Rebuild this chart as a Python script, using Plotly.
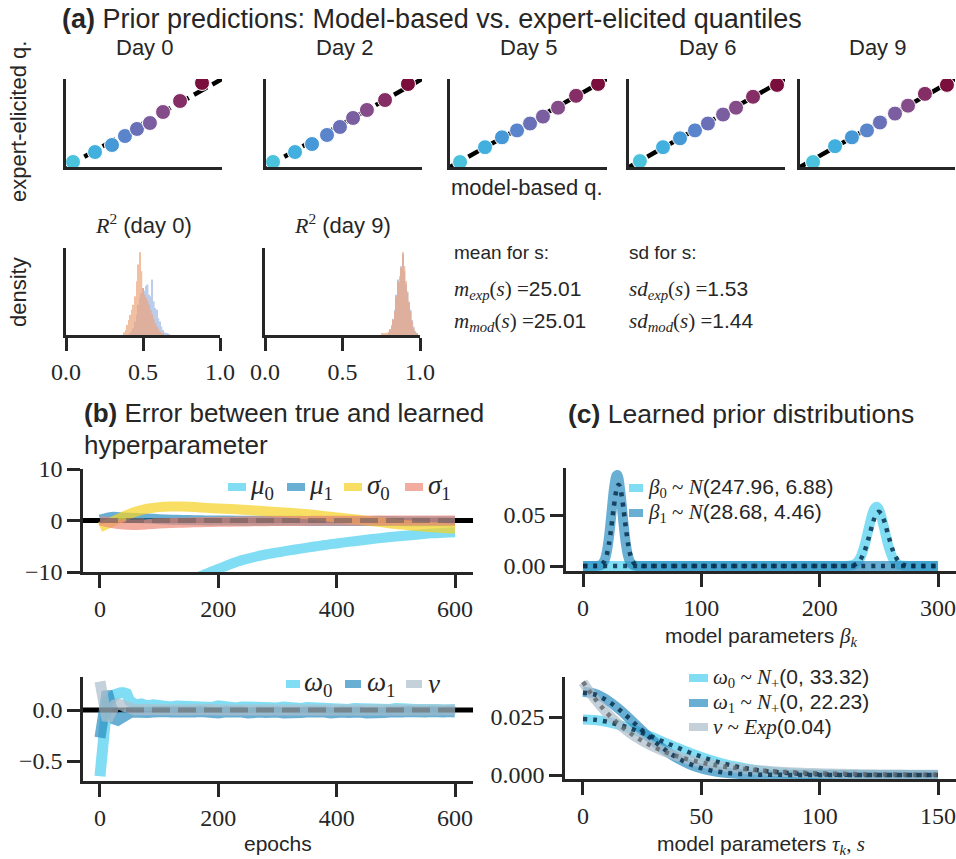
import plotly.graph_objects as go

W, H = 956, 859
def fx(p): return p / W
def fy(p): return 1 - p / H

# ---------------- DATA ----------------
# (a) quantiles: model-based (x) vs expert-elicited (y)
day_labels = ["Day 0", "Day 2", "Day 5", "Day 6", "Day 9"]
q_range = [20.0, 30.0]
model_q_day0 = [20.45, 21.86, 22.95, 23.78, 24.55, 25.38, 26.22, 27.31, 28.72]
expert_q_day0 = [20.57, 21.70, 22.50, 23.52, 24.32, 25.00, 26.25, 27.50, 29.55]
model_q_day2 = [20.45, 21.86, 22.95, 23.91, 24.74, 25.58, 26.47, 27.63, 29.10]
expert_q_day2 = [20.57, 21.70, 22.61, 23.64, 24.55, 25.57, 26.48, 27.61, 29.43]
model_q_day5 = [20.64, 22.23, 23.31, 24.27, 25.10, 25.92, 26.88, 28.03, 29.43]
expert_q_day5 = [20.56, 22.25, 23.37, 24.16, 24.94, 25.73, 26.74, 28.09, 29.44]
model_q_day6 = [20.70, 22.18, 23.27, 24.23, 25.06, 26.03, 26.86, 27.95, 29.49]
expert_q_day6 = [20.67, 22.25, 23.26, 24.16, 24.94, 25.96, 26.74, 27.98, 29.33]
model_q_day9 = [20.84, 22.26, 23.35, 24.32, 25.16, 26.13, 26.97, 28.06, 29.48]
expert_q_day9 = [20.56, 22.36, 23.37, 24.16, 25.06, 26.07, 26.97, 28.31, 29.33]
quantile_colors = ["#4cc3dc", "#42b0de", "#4698d6", "#5a84cc", "#6a70b8",
                   "#7a5ea0", "#844c88", "#852e66", "#7a0e3c"]

# (a) R^2 histograms
r2_day0_exp_x = [0.38, 0.39, 0.40, 0.41, 0.42, 0.43, 0.44, 0.45, 0.46, 0.47, 0.48, 0.49, 0.50,
                 0.51, 0.52, 0.53, 0.54, 0.55, 0.56, 0.57, 0.58, 0.59, 0.60, 0.61, 0.62, 0.63]
r2_day0_exp_h = [0.8, 1.5, 3, 4.5, 6, 7.5, 9, 11.5, 16, 21, 24.6, 19, 14,
                 12, 11, 10.2, 9, 7.5, 6.2, 4.8, 3.6, 2.6, 1.8, 1.1, 0.6, 0.3]
r2_day0_mod_x = [0.42, 0.43, 0.44, 0.45, 0.46, 0.47, 0.48, 0.49, 0.50, 0.51, 0.52, 0.53, 0.54,
                 0.55, 0.56, 0.57, 0.58, 0.59, 0.60, 0.61, 0.62, 0.63, 0.64, 0.65, 0.66, 0.67]
r2_day0_mod_h = [0.5, 1.2, 2, 4, 6, 9, 11, 12.5, 14, 13.2, 14.5, 15, 12,
                 11.5, 16.5, 10, 8, 7.5, 5, 4, 2.5, 1.5, 0.8, 0.5, 0.3, 0.2]
r2_day9_exp_x = [0.76, 0.77, 0.78, 0.79, 0.80, 0.81, 0.82, 0.83, 0.84, 0.85, 0.86, 0.87,
                 0.88, 0.89, 0.90, 0.91, 0.92, 0.93, 0.94, 0.95, 0.96, 0.97, 0.98]
r2_day9_exp_h = [0.3, 0.4, 0.5, 0.7, 1.0, 1.8, 3.0, 4.5, 7, 11.5, 16, 17.5,
                 20, 24.6, 20.5, 16, 12.5, 10, 7, 4, 2, 0.8, 0.3]
r2_day9_mod_x = [0.80, 0.81, 0.82, 0.83, 0.84, 0.85, 0.86, 0.87, 0.88, 0.89, 0.90,
                 0.91, 0.92, 0.93, 0.94, 0.95, 0.96, 0.97, 0.98]
r2_day9_mod_h = [0.6, 1.5, 2.5, 4.8, 7.5, 12, 16.5, 15.5, 20.5, 24, 19,
                 15, 13, 9.5, 7.5, 4.5, 2.5, 1.2, 0.4]
hist_top = 25.9

# (b) errors between true and learned hyperparameters
epochs_top = [0, 20, 40, 60, 80, 100, 120, 140, 160, 180, 200, 220, 240, 260, 280, 300,
              320, 340, 360, 380, 400, 420, 440, 460, 480, 500, 520, 540, 560, 580, 600]
err_mu0 = [-24, -22, -20, -18, -16.5, -15, -13.6, -12.4, -11.3, -10.3, -9.4, -8.5, -7.7, -7.1,
           -6.6, -6.2, -5.8, -5.45, -5.1, -4.75, -4.45, -4.15, -3.9, -3.6, -3.35, -3.1, -2.9,
           -2.7, -2.5, -2.38, -2.26]
err_mu1 = [0.2, 0.7, 0.6, 0.5, 0.4, 0.25, 0.15, 0.1, 0.05, 0.02, 0.0, -0.02, -0.03, -0.04,
           -0.05, -0.05, -0.06, -0.07, -0.08, -0.08, -0.09, -0.1, -0.1, -0.11, -0.12, -0.12,
           -0.13, -0.14, -0.15, -0.15, -0.16]
err_sigma0 = [-1.3, -0.3, 0.8, 1.7, 2.3, 2.6, 2.7, 2.7, 2.6, 2.45, 2.35, 2.25, 2.1, 1.95,
              1.8, 1.65, 1.5, 1.3, 1.1, 0.85, 0.6, 0.35, 0.1, -0.15, -0.4, -0.7, -0.9, -1.1,
              -1.3, -1.45, -1.6]
err_sigma1 = [0.0, -0.5, -0.8, -0.85, -0.75, -0.6, -0.5, -0.42, -0.35, -0.3, -0.25, -0.22,
              -0.19, -0.16, -0.13, -0.1, -0.09, -0.08, -0.07, -0.06, -0.05, -0.04, -0.03,
              -0.02, -0.01, 0.0, 0.0, 0.0, 0.0, 0.0, 0.0]
epochs_bot = [0, 3, 6, 9, 12, 15, 18, 21, 25, 30, 35, 40, 45, 50, 55, 60,
              70, 80, 90, 100, 110, 120, 130, 140, 150, 160, 170, 180, 190, 200,
              210, 220, 230, 240, 250, 260, 270, 280, 290, 300, 310, 320, 330, 340,
              350, 360, 370, 380, 390, 400, 410, 420, 430, 440, 450, 460, 470, 480,
              490, 500, 510, 520, 530, 540, 550, 560, 570, 580, 590, 600]
err_omega0 = [-0.65, -0.4, -0.15, 0.02, 0.08, 0.1, 0.1, 0.12, 0.15, 0.17, 0.17, 0.17, 0.16,
              0.09, 0.05, 0.05,
              0.06, 0.04, 0.05, 0.035, 0.045, 0.03, 0.04, 0.035, 0.025, 0.04, 0.03, 0.035,
              0.025, 0.04, 0.03, 0.035, 0.02, 0.03, 0.025, 0.035, 0.02, 0.03, 0.025, 0.02,
              0.03, 0.02, 0.025, 0.015, 0.025, 0.02, 0.015, 0.025, 0.01, 0.02, 0.015, 0.005,
              0.015, 0.01, 0.02, 0.005, 0.015, 0.01, 0.005, 0.015, 0.0, 0.01, 0.005, 0.01,
              0.0, 0.01, 0.005, 0.0, 0.01, 0.005]
err_omega1 = [-0.27, -0.1, 0.08, 0.17, 0.18, 0.12, 0.02, -0.05, -0.09, -0.1, -0.08, -0.04,
              -0.02, -0.03, -0.02, -0.025,
              -0.015, -0.025, -0.02, -0.03, -0.015, -0.02, -0.025, -0.015, -0.03, -0.02,
              -0.015, -0.025, -0.02, -0.03, -0.02, -0.015, -0.025, -0.02, -0.03, -0.015,
              -0.02, -0.025, -0.015, -0.02, -0.03, -0.02, -0.015, -0.025, -0.02, -0.015,
              -0.025, -0.02, -0.03, -0.015, -0.02, -0.025, -0.015, -0.02, -0.03, -0.02,
              -0.015, -0.025, -0.02, -0.03, -0.02, -0.015, -0.025, -0.03, -0.02, -0.015,
              -0.025, -0.02, -0.015, -0.02]
err_nu = [0.28, 0.15, 0.02, -0.08, -0.1, -0.06, 0.0, 0.03, 0.05, 0.06, 0.05, 0.03, 0.01,
          0.0, 0.0, 0.0,
          0.005, 0.0, 0.005, 0.0, 0.0, 0.005, 0.0, 0.0, 0.005, 0.0, 0.0, 0.0, 0.005, 0.0,
          0.0, 0.0, 0.005, 0.0, 0.0, 0.0, 0.0, 0.005, 0.0, 0.0, 0.0, 0.0, 0.0, 0.005, 0.0,
          0.0, 0.0, 0.0, 0.0, 0.0, 0.005, 0.0, 0.0, 0.0, 0.0, 0.0, 0.0, 0.0, 0.0, 0.0,
          0.0, 0.0, 0.0, 0.0, 0.0, 0.0, 0.0, 0.0, 0.0, 0.0]
true_error = 0.0

# (c) learned prior distributions (thick) and true priors (dotted)
beta0_x = [0, 50, 100, 150, 200, 220, 225, 230, 234, 238, 241, 244, 246, 248, 250, 252,
           255, 258, 262, 266, 270, 275, 280, 300]
beta0_d = [0, 0, 0, 0, 0, 0.00002, 0.00022, 0.00192, 0.0074, 0.02034, 0.03477, 0.04914,
           0.05568, 0.05799, 0.0555, 0.0488, 0.03436, 0.02, 0.00723, 0.00187, 0.00034,
           0.00002, 0, 0]
beta1_x = [0, 10, 15, 18, 20, 22, 24, 26, 28, 29, 30, 32, 34, 36, 38, 40, 43, 46, 50,
           100, 150, 200, 250, 300]
beta1_d = [0, 0.00001, 0.00081, 0.00508, 0.01346, 0.0291, 0.0516, 0.0747, 0.0884, 0.0892,
           0.0856, 0.0678, 0.0439, 0.0232, 0.01007, 0.00357, 0.00052, 0.00005, 0, 0, 0, 0, 0, 0]
beta0_true_x = [0, 50, 100, 150, 200, 225, 230, 234, 238, 241, 244, 246, 248, 250, 252, 255,
                258, 262, 266, 270, 275, 280, 300]
beta0_true_d = [0, 0, 0, 0, 0, 0.0002, 0.00152, 0.00546, 0.01479, 0.0259, 0.03862, 0.04614,
                0.05133, 0.05319, 0.05133, 0.04259, 0.03011, 0.01479, 0.00546, 0.00152,
                0.0002, 0.00002, 0]
beta1_true_x = [0, 10, 15, 18, 20, 22, 24, 26, 28, 29, 30, 31, 32, 34, 36, 38, 40, 43, 46,
                50, 100, 150, 200, 250, 300]
beta1_true_d = [0, 0.00001, 0.00089, 0.00448, 0.0108, 0.02218, 0.03884, 0.05794, 0.07365,
                0.07821, 0.07979, 0.07821, 0.07365, 0.05794, 0.03884, 0.02218, 0.0108,
                0.00272, 0.00048, 0.00003, 0, 0, 0, 0, 0]
tau_x = [0, 5, 10, 15, 20, 25, 30, 35, 40, 45, 50, 55, 60, 65, 70, 75, 80, 85, 90, 95, 100,
         105, 110, 115, 120, 125, 130, 135, 140, 145, 150]
omega0_d = [0.02395, 0.02368, 0.0229, 0.02164, 0.02, 0.01808, 0.01597, 0.0138, 0.01165,
            0.00962, 0.00777, 0.00613, 0.00473, 0.00357, 0.00263, 0.0019, 0.00134, 0.00093,
            0.00062, 0.00041, 0.00027, 0.00017, 0.0001, 0.00006, 0.00004, 0.00002, 0.00001,
            0.00001, 0, 0, 0]
omega1_d = [0.03589, 0.035, 0.03243, 0.02858, 0.02395, 0.01907, 0.01444, 0.01039, 0.00711,
            0.00463, 0.00286, 0.00168, 0.00094, 0.0005, 0.00025, 0.00012, 0.00005, 0.00002,
            0.00001, 0, 0, 0, 0, 0, 0, 0, 0, 0, 0, 0, 0]
nu_d = [0.04, 0.03275, 0.02681, 0.02195, 0.01797, 0.01472, 0.01205, 0.00986, 0.00808,
        0.00661, 0.00541, 0.00443, 0.00363, 0.00297, 0.00243, 0.00199, 0.00163, 0.00134,
        0.00109, 0.0009, 0.00073, 0.0006, 0.00049, 0.0004, 0.00033, 0.00027, 0.00022,
        0.00018, 0.00015, 0.00012, 0.0001]
tau_true_x = [0, 5, 10, 15, 20, 25, 30, 35, 40, 45, 50, 55, 60, 65, 70, 75, 80, 90, 100,
              110, 120, 130, 140, 150]
omega0_true_d = [0.0241, 0.0238, 0.023, 0.0217, 0.0201, 0.0182, 0.0161, 0.0139, 0.0118,
                 0.0097, 0.0079, 0.0062, 0.0048, 0.0036, 0.0027, 0.0019, 0.0014, 0.0006,
                 0.0003, 0.0001, 0, 0, 0, 0]
omega1_true_d = [0.0355, 0.0347, 0.0322, 0.0285, 0.0240, 0.0192, 0.0146, 0.0106, 0.0073,
                 0.0048, 0.0030, 0.0018, 0.0010, 0.0005, 0.0003, 0.0001, 0.0001, 0, 0, 0,
                 0, 0, 0, 0]
nu_true_d = [0.0402, 0.0329, 0.0269, 0.0220, 0.0180, 0.0147, 0.0120, 0.0098, 0.0080, 0.0066,
             0.0054, 0.0044, 0.0036, 0.0030, 0.0024, 0.0020, 0.0016, 0.0011, 0.0007, 0.0005,
             0.0003, 0.0002, 0.00015, 0.0001]

# ---------------- STYLE ----------------
INK = "#262626"
SANS = "Liberation Sans"
SERIF = "Liberation Serif"
C_CYAN = "rgba(79,208,238,0.72)"
C_BLUE = "rgba(42,139,192,0.70)"
C_YELLOW = "rgba(245,211,39,0.72)"
C_SALMON = "rgba(236,138,120,0.70)"
C_GRAY = "rgba(174,191,204,0.72)"
C_NAVY = "rgba(8,48,78,0.85)"
C_DGRAY = "rgba(100,104,110,0.85)"
C_HIST_EXP = "#eca47c"
C_HIST_MOD = "#7b9ad8"

def sp(t):
    return "<span style='font-family:Liberation Serif'>" + t + "</span>"

fig = go.Figure()
layout = dict(width=W, height=H, margin=dict(l=0, r=0, t=0, b=0, pad=0, autoexpand=False),
              paper_bgcolor="white", plot_bgcolor="white", showlegend=False,
              barmode="overlay", shapes=[], annotations=[])

base_axis = dict(showline=True, linewidth=2.5, linecolor=INK, showgrid=False, zeroline=False,
                 ticks="outside", ticklen=13, tickwidth=2.5, tickcolor=INK, automargin=False,
                 ticklabeloverflow="allow",
                 tickfont=dict(family=SERIF, size=24, color=INK), fixedrange=True)

def add_axes(i, xdom, ydom, xopts, yopts):
    xs = "xaxis" if i == 1 else f"xaxis{i}"
    ys = "yaxis" if i == 1 else f"yaxis{i}"
    xa = dict(base_axis); xa.update(domain=[fx(xdom[0]), fx(xdom[1])], anchor=f"y{i}" if i > 1 else "y")
    xa.update(xopts)
    ya = dict(base_axis); ya.update(domain=[fy(ydom[1]), fy(ydom[0])], anchor=f"x{i}" if i > 1 else "x")
    ya.update(yopts)
    layout[xs] = xa
    layout[ys] = ya
    return ("x" if i == 1 else f"x{i}"), ("y" if i == 1 else f"y{i}")

noticks = dict(ticks="", showticklabels=False)

# ---- (a) row 1: quantile scatter panels ----
scatter_xdoms = [(66, 222), (266, 422), (450, 607), (629, 785), (800, 955)]
model_sets = [model_q_day0, model_q_day2, model_q_day5, model_q_day6, model_q_day9]
expert_sets = [expert_q_day0, expert_q_day2, expert_q_day5, expert_q_day6, expert_q_day9]
for k in range(5):
    xr, yr = add_axes(k + 1, scatter_xdoms[k], (79, 167),
                      dict(noticks, range=q_range), dict(noticks, range=q_range))
    fig.add_trace(go.Scatter(x=q_range, y=q_range, mode="lines", xaxis=xr, yaxis=yr,
                             line=dict(color="black", width=4.5, dash="15px,6px"),
                             hoverinfo="skip"))
    fig.add_trace(go.Scatter(x=model_sets[k], y=expert_sets[k], mode="markers", xaxis=xr, yaxis=yr,
                             marker=dict(size=15, color=quantile_colors,
                                         line=dict(color="white", width=1))))
    cx = (scatter_xdoms[k][0] + scatter_xdoms[k][1]) / 2
    layout["annotations"].append(dict(text=day_labels[k], x=fx(cx), y=fy(48), xref="paper",
                                      yref="paper", showarrow=False, xanchor="center",
                                      yanchor="middle", font=dict(family=SANS, size=22, color=INK)))

# ---- (a) row 2: histograms ----
hist_sets = [((66, 220), r2_day0_mod_x, r2_day0_mod_h, r2_day0_exp_x, r2_day0_exp_h, "day 0"),
             ((265, 420), r2_day9_mod_x, r2_day9_mod_h, r2_day9_exp_x, r2_day9_exp_h, "day 9")]
for j, (xd, mx, mh, ex, eh, lab) in enumerate(hist_sets):
    xr, yr = add_axes(6 + j, xd, (248, 335),
                      dict(range=[0, 1], tickvals=[0, 0.5, 1], ticktext=["0.0", "0.5", "1.0"]),
                      dict(noticks, range=[0, hist_top]))
    fig.add_trace(go.Bar(x=mx, y=mh, width=0.0105, xaxis=xr, yaxis=yr,
                         marker=dict(color=C_HIST_MOD, line=dict(width=0)), opacity=0.5))
    fig.add_trace(go.Bar(x=ex, y=eh, width=0.0105, xaxis=xr, yaxis=yr,
                         marker=dict(color=C_HIST_EXP, line=dict(width=0)), opacity=0.7))
    cx = (xd[0] + xd[1]) / 2
    layout["annotations"].append(dict(text=sp("<i>R</i><sup>2</sup>") + " (" + lab + ")",
                                      x=fx(cx), y=fy(224), xref="paper", yref="paper",
                                      showarrow=False, xanchor="center", yanchor="middle",
                                      font=dict(family=SANS, size=22, color=INK)))

# ---- (b) top ----
xr, yr = add_axes(8, (83, 473), (469, 572),
                  dict(range=[-28.7, 630.4], tickvals=[0, 200, 400, 600]),
                  dict(range=[-10, 10], tickvals=[-10, 0, 10], ticktext=["\u221210", "0", "10"]))
layout["shapes"].append(dict(type="line", xref="x8 domain", yref="y8", x0=0, x1=1, y0=0, y1=0,
                             line=dict(color="black", width=5), layer="below"))
for ys, col in [(err_mu0, C_CYAN), (err_mu1, C_BLUE), (err_sigma0, C_YELLOW), (err_sigma1, C_SALMON)]:
    fig.add_trace(go.Scatter(x=epochs_top, y=ys, mode="lines", xaxis=xr, yaxis=yr,
                             line=dict(color=col, width=10, shape="spline", smoothing=0.8)))
fig.add_trace(go.Scatter(x=[epochs_top[0], epochs_top[-1]], y=[true_error, true_error], mode="lines",
                         xaxis=xr, yaxis=yr, line=dict(color="rgba(125,100,100,0.7)", width=5,
                                                       dash="18px,8px")))

# ---- (b) bottom ----
xr, yr = add_axes(9, (83, 473), (677, 781),
                  dict(range=[-28.7, 630.4], tickvals=[0, 200, 400, 600]),
                  dict(range=[-0.696, 0.3235], tickvals=[-0.5, 0.0], ticktext=["\u22120.5", "0.0"]))
layout["shapes"].append(dict(type="line", xref="x9 domain", yref="y9", x0=0, x1=1, y0=0, y1=0,
                             line=dict(color="black", width=5), layer="below"))
for ys, col in [(err_omega0, C_CYAN), (err_omega1, C_BLUE), (err_nu, C_GRAY)]:
    fig.add_trace(go.Scatter(x=epochs_bot, y=ys, mode="lines", xaxis=xr, yaxis=yr,
                             line=dict(color=col, width=11)))
fig.add_trace(go.Scatter(x=[epochs_bot[0], epochs_bot[-1]], y=[true_error, true_error], mode="lines",
                         xaxis=xr, yaxis=yr, line=dict(color="rgba(110,115,120,0.7)", width=5,
                                                       dash="18px,8px")))

# ---- (c) top ----
xr, yr = add_axes(10, (566, 956), (468, 571),
                  dict(range=[-14.4, 315.2], tickvals=[0, 100, 200, 300]),
                  dict(range=[-0.0049, 0.0961], tickvals=[0, 0.05], ticktext=["0.00", "0.05"]))
fig.add_trace(go.Scatter(x=beta0_x, y=beta0_d, mode="lines", xaxis=xr, yaxis=yr,
                         line=dict(color=C_CYAN, width=10, shape="spline", smoothing=0.6)))
fig.add_trace(go.Scatter(x=beta1_x, y=beta1_d, mode="lines", xaxis=xr, yaxis=yr,
                         line=dict(color=C_BLUE, width=10, shape="spline", smoothing=0.6)))
fig.add_trace(go.Scatter(x=beta0_true_x, y=beta0_true_d, mode="lines", xaxis=xr, yaxis=yr,
                         line=dict(color=C_NAVY, width=4.5, dash="4px,6px", shape="spline", smoothing=0.6)))
fig.add_trace(go.Scatter(x=beta1_true_x, y=beta1_true_d, mode="lines", xaxis=xr, yaxis=yr,
                         line=dict(color=C_NAVY, width=4.5, dash="4px,6px", shape="spline", smoothing=0.6)))

# ---- (c) bottom ----
xr, yr = add_axes(11, (565, 956), (677, 779),
                  dict(range=[-7.6, 157.6], tickvals=[0, 50, 100, 150]),
                  dict(range=[-0.00172, 0.04224], tickvals=[0, 0.025], ticktext=["0.000", "0.025"]))
for ys, col in [(omega0_d, C_CYAN), (omega1_d, C_BLUE), (nu_d, C_GRAY)]:
    fig.add_trace(go.Scatter(x=tau_x, y=ys, mode="lines", xaxis=xr, yaxis=yr,
                             line=dict(color=col, width=10, shape="spline")))
for ys, col in [(omega0_true_d, C_NAVY), (omega1_true_d, C_NAVY), (nu_true_d, C_DGRAY)]:
    fig.add_trace(go.Scatter(x=tau_true_x, y=ys, mode="lines", xaxis=xr, yaxis=yr,
                             line=dict(color=col, width=4.5, dash="4px,6px", shape="spline")))

# ---------------- LEGENDS (manual) ----------------
def legend_item(x0, x1, yc, color, text, tx, size=21):
    layout["shapes"].append(dict(type="line", xref="paper", yref="paper", x0=fx(x0), x1=fx(x1),
                                 y0=fy(yc), y1=fy(yc), line=dict(color=color, width=8)))
    layout["annotations"].append(dict(text=text, x=fx(tx), y=fy(yc), xref="paper", yref="paper",
                                      showarrow=False, xanchor="left", yanchor="middle",
                                      font=dict(family=SANS, size=size, color=INK)))

legend_item(228, 246, 487, C_CYAN, sp("<i>μ</i><sub>0</sub>"), 248, 27)
legend_item(287, 305, 487, C_BLUE, sp("<i>μ</i><sub>1</sub>"), 307, 27)
legend_item(344, 362, 487, C_YELLOW, sp("<i>σ</i><sub>0</sub>"), 365, 27)
legend_item(405, 423, 487, C_SALMON, sp("<i>σ</i><sub>1</sub>"), 426, 27)

legend_item(286, 300, 684, C_CYAN, sp("<i>ω</i><sub>0</sub>"), 302, 27)
legend_item(345, 361, 684, C_BLUE, sp("<i>ω</i><sub>1</sub>"), 365, 27)
legend_item(406, 422, 684, C_GRAY, sp("<i>ν</i>"), 426, 27)

legend_item(629, 643, 488, C_CYAN, sp("<i>β</i><sub>0</sub> ~ <i>N</i>") + "(247.96, 6.88)", 646, 21)
legend_item(629, 643, 513, C_BLUE, sp("<i>β</i><sub>1</sub> ~ <i>N</i>") + "(28.68, 4.46)", 646, 21)

legend_item(689, 708, 678, C_CYAN, sp("<i>ω</i><sub>0</sub> ~ <i>N</i><sub>+</sub>") + "(0, 33.32)", 711, 21)
legend_item(689, 708, 703, C_BLUE, sp("<i>ω</i><sub>1</sub> ~ <i>N</i><sub>+</sub>") + "(0, 22.23)", 711, 21)
legend_item(689, 708, 727, C_GRAY, sp("<i>ν</i> ~ <i>Exp</i>") + "(0.04)", 711, 21)

# ---------------- TEXT ----------------
def txt(text, x, y, size, anchor="left", angle=0, family=SANS):
    layout["annotations"].append(dict(text=text, x=fx(x), y=fy(y), xref="paper", yref="paper",
                                      showarrow=False, xanchor=anchor, yanchor="middle",
                                      textangle=angle, font=dict(family=family, size=size, color=INK)))

txt("<b>(a)</b> Prior predictions: Model-based vs. expert-elicited quantiles", 60, 19, 27)
txt("expert-elicited q.", 18, 122, 22, "center", -90)
txt("model-based q.", 527, 187, 22, "center")
txt("density", 18, 292, 22, "center", -90)
txt("mean for s:", 452, 253, 19)
txt(sp("<i>m</i><sub><i>exp</i></sub>(<i>s</i>) =") + "25.01", 452, 290, 21)
txt(sp("<i>m</i><sub><i>mod</i></sub>(<i>s</i>) =") + "25.01", 452, 322, 21)
txt("sd for s:", 627, 253, 19)
txt(sp("<i>sd</i><sub><i>exp</i></sub>(<i>s</i>) =") + "1.53", 627, 290, 21)
txt(sp("<i>sd</i><sub><i>mod</i></sub>(<i>s</i>) =") + "1.44", 627, 322, 21)
txt("<b>(b)</b> Error between true and learned", 82, 413, 26)
txt("hyperparameter", 82, 445, 26)
txt("<b>(c)</b> Learned prior distributions", 566, 414, 26.5)
txt("epochs", 278, 843, 21, "center")
txt("model parameters " + sp("<i>β</i><sub><i>k</i></sub>"), 761, 637, 21, "center")
txt("model parameters " + sp("<i>τ</i><sub><i>k</i></sub>, <i>s</i>"), 761, 845, 21, "center")

fig.update_layout(**layout)
fig.write_html("out.html", config={"displayModeBar": False},
               post_script="document.body.style.margin='0';document.body.style.overflow='hidden';")
